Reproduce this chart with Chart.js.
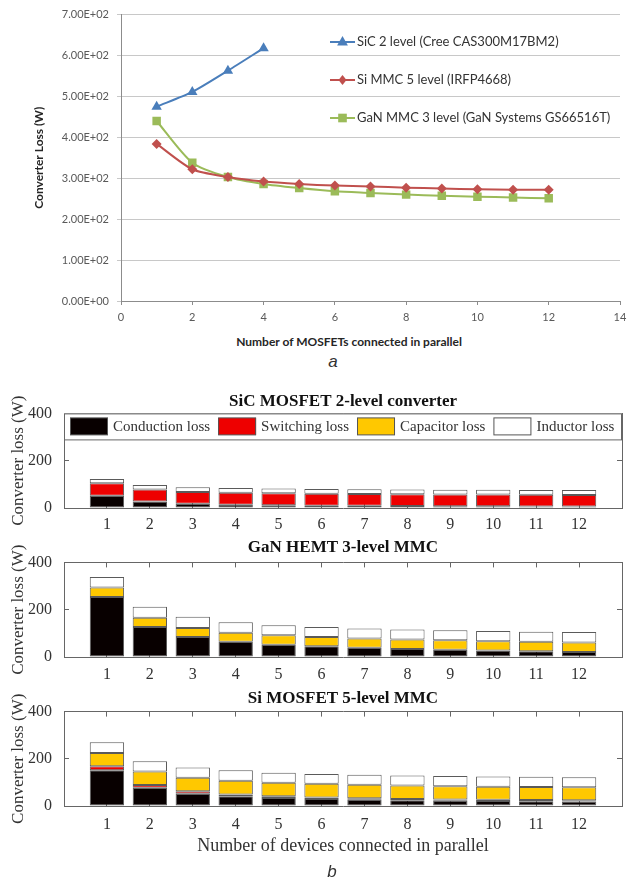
<!DOCTYPE html>
<html>
<head>
<meta charset="utf-8">
<script src="https://cdn.jsdelivr.net/npm/chart.js@4.4.1/dist/chart.umd.min.js"></script>
<style>
  body { margin: 0; background: #fff; width: 628px; height: 881px; position: relative; overflow: hidden; }
  canvas { position: absolute; left: 0; }
  .txt { position: absolute; white-space: nowrap; transform: translate(-50%, -50%); }
</style>
</head>
<body>
<canvas id="lineChart" width="628" height="330" style="top:0"></canvas>
<div class="txt" style="left:349px;top:341px;font:bold 12px Lato;color:#262626">Number of MOSFETs connected in parallel</div>
<div class="txt" style="left:333px;top:362px;font:italic 17px 'Liberation Sans';color:#333">a</div>
<canvas id="sicBars" width="628" height="150" style="top:385px"></canvas>
<canvas id="ganBars" width="628" height="150" style="top:535px"></canvas>
<canvas id="siBars" width="628" height="180" style="top:685px"></canvas>
<div class="txt" style="left:332px;top:872px;font:italic 17px 'Liberation Sans';color:#333">b</div>
<script>
// ---- data (a) ----
const nParallel = [1, 2, 3, 4, 5, 6, 7, 8, 9, 10, 11, 12];
const lineNames = ['SiC 2 level (Cree CAS300M17BM2)', 'Si MMC 5 level (IRFP4668)', 'GaN MMC 3 level (GaN Systems GS66516T)'];
const sicTwoLevel = [475, 511, 563, 618];
const siMmcFiveLevel = [384, 322, 303, 292, 286, 282, 280, 277, 275, 273, 272, 272];
const ganMmcThreeLevel = [440, 338, 303, 286, 276, 268, 264, 260, 257, 255, 253, 251];

// ---- data (b) ----
const lossTypes = ['Conduction loss', 'Switching loss', 'Capacitor loss', 'Inductor loss'];
const sicConduction = [52, 27, 18, 14, 12, 10, 9, 8, 7, 7, 6, 6];
const sicSwitching = [53, 51, 50, 50, 50, 50, 50, 50, 50, 50, 50, 49];
const sicCapacitor = [0, 0, 0, 0, 0, 0, 0, 0, 0, 0, 0, 0];
const sicInductor = [18, 19, 20, 21, 20, 20, 20, 20, 20, 20, 20, 21];

const ganConduction = [254, 127, 85, 65, 52, 45, 39, 34, 31, 27, 24, 21];
const ganSwitching = [0, 0, 0, 0, 0, 0, 0, 0, 0, 0, 0, 0];
const ganCapacitor = [40, 39, 38, 38, 40, 40, 39, 40, 40, 40, 40, 40];
const ganInductor = [44, 47, 47, 44, 42, 42, 43, 42, 42, 43, 43, 45];

const siConduction = [151, 77, 52, 41, 34, 30, 27, 24, 22, 21, 20, 19];
const siSwitching = [17, 12, 10, 8, 7, 6, 6, 6, 6, 5, 5, 5];
const siCapacitor = [57, 57, 58, 58, 58, 58, 57, 57, 56, 56, 56, 55];
const siInductor = [45, 44, 43, 44, 42, 42, 42, 42, 43, 43, 43, 43];

const lossColors = ['#080000', '#ee0000', '#ffc800', '#ffffff'];

function pts(ys) {
  return ys.map((y, i) => ({ x: nParallel[i], y: y }));
}

function sci(v) {
  if (v === 0) return '0.00E+00';
  const e = Math.floor(Math.log10(v));
  return (v / Math.pow(10, e)).toFixed(2) + 'E+' + String(e).padStart(2, '0');
}

function marker(ctx, style, x, y, r, color) {
  ctx.fillStyle = color;
  ctx.beginPath();
  if (style === 'triangle') {
    ctx.moveTo(x, y - r);
    ctx.lineTo(x + r * 0.9, y + r * 0.6);
    ctx.lineTo(x - r * 0.9, y + r * 0.6);
  } else if (style === 'rectRot') {
    ctx.moveTo(x, y - r);
    ctx.lineTo(x + r * 0.8, y);
    ctx.lineTo(x, y + r);
    ctx.lineTo(x - r * 0.8, y);
  } else {
    const s = r * 0.72;
    ctx.rect(x - s, y - s, s * 2, s * 2);
  }
  ctx.closePath();
  ctx.fill();
}

// legend drawn inside the plot, like the Excel one
const lineLegend = {
  id: 'lineLegend',
  afterDatasetsDraw(chart) {
    const ctx = chart.ctx;
    const rows = [42, 80, 118];
    ctx.save();
    chart.data.datasets.forEach((ds, i) => {
      const y = rows[i];
      ctx.strokeStyle = ds.borderColor;
      ctx.lineWidth = 2;
      ctx.beginPath();
      ctx.moveTo(330, y);
      ctx.lineTo(355, y);
      ctx.stroke();
      marker(ctx, ds.pointStyle, 342.5, y, ds.pointRadius, ds.backgroundColor);
      ctx.fillStyle = '#333';
      ctx.font = '13px Lato';
      ctx.textBaseline = 'middle';
      ctx.fillText(ds.label, 357, y);
    });
    ctx.restore();
  }
};

new Chart(document.getElementById('lineChart'), {
  type: 'line',
  data: {
    datasets: [
      { label: lineNames[0], data: pts(sicTwoLevel), borderColor: '#4a7ebb', backgroundColor: '#4a7ebb',
        pointStyle: 'triangle', pointRadius: 6 },
      { label: lineNames[1], data: pts(siMmcFiveLevel), borderColor: '#c0504d', backgroundColor: '#c0504d',
        pointStyle: 'rectRot', pointRadius: 5 },
      { label: lineNames[2], data: pts(ganMmcThreeLevel), borderColor: '#9bbb59', backgroundColor: '#9bbb59',
        pointStyle: 'rect', pointRadius: 6 }
    ]
  },
  options: {
    responsive: false,
    animation: false,
    elements: { line: { borderWidth: 2, tension: 0.25 }, point: { borderWidth: 0 } },
    layout: { padding: { left: 32, top: 14, right: 8, bottom: 0 } },
    plugins: { legend: { display: false }, tooltip: { enabled: false } },
    scales: {
      x: {
        type: 'linear', min: 0, max: 14,
        // padding 0 so the last label does not eat the right margin; lineHeight pushes labels down
        ticks: { stepSize: 2, color: '#595959', font: { family: 'Lato', size: 11, lineHeight: 2.3 }, padding: 0 },
        grid: { drawOnChartArea: false, tickLength: 4, color: '#8c8c8c' },
        border: { color: '#8c8c8c' },
        afterFit(s) { s.height = 29; }
      },
      y: {
        min: 0, max: 700,
        ticks: { stepSize: 100, callback: v => sci(v), color: '#595959', font: { family: 'Lato', size: 11 }, padding: 8 },
        grid: { color: '#c8c8c8', tickLength: 4 },
        border: { color: '#8c8c8c' },
        title: { display: true, text: 'Converter Loss (W)', color: '#262626',
          font: { family: 'Lato', size: 12, weight: 'bold' }, padding: 0 },
        afterFit(s) { s.width = 121 - 32; }
      }
    }
  },
  plugins: [lineLegend]
});

// legend box for the first bar chart
const lossLegend = {
  id: 'lossLegend',
  afterDatasetsDraw(chart) {
    const ctx = chart.ctx;
    const a = chart.chartArea;
    ctx.save();
    ctx.fillStyle = '#fff';
    ctx.fillRect(a.left, a.top, a.right - a.left, 26);
    ctx.strokeStyle = '#666';
    ctx.lineWidth = 1;
    ctx.strokeRect(a.left + 0.5, a.top + 0.5, a.right - a.left - 1, 26);
    let x = a.left + 6;
    ctx.font = '15px "Liberation Serif"';
    ctx.textBaseline = 'middle';
    chart.data.datasets.forEach(ds => {
      ctx.fillStyle = ds.backgroundColor;
      ctx.fillRect(x, a.top + 4.5, 38, 17);
      ctx.strokeStyle = '#555';
      ctx.strokeRect(x + 0.5, a.top + 4.5, 37, 17);
      x += 43;
      ctx.fillStyle = '#333';
      ctx.fillText(ds.label, x, a.top + 13.5);
      x += ctx.measureText(ds.label).width + 8;
    });
    ctx.restore();
  }
};

const serif = 'Liberation Serif';

function lossChart(id, title, series, o) {
  const edge = { drawOnChartArea: false, tickLength: -5, color: '#666' };
  return new Chart(document.getElementById(id), {
    type: 'bar',
    data: {
      datasets: series.map((vals, i) => ({
        label: lossTypes[i],
        data: pts(vals),
        backgroundColor: lossColors[i],
        borderColor: '#5a5a5a',
        borderWidth: 1,
        borderSkipped: false,
        barPercentage: 0.8,
        categoryPercentage: 1
      }))
    },
    options: {
      responsive: false,
      animation: false,
      layout: { padding: { left: 8, right: 6, top: 0, bottom: 0 } },
      plugins: {
        legend: { display: false },
        tooltip: { enabled: false },
        title: { display: true, text: title, fullSize: false, color: '#111',
          font: { family: serif, size: 17, weight: 'bold' }, padding: { top: o.tp, bottom: o.bp } }
      },
      scales: {
        x: {
          type: 'linear', min: 0, max: 13, stacked: true, offset: false,
          ticks: { stepSize: 1, callback: v => (v >= 1 && v <= 12 ? String(v) : ''),
            color: '#333', font: { family: serif, size: 16, lineHeight: o.lh }, padding: 0 },
          grid: Object.assign({ offset: false }, edge),
          border: { color: '#666' },
          title: { display: !!o.xTitle, text: o.xTitle || '', color: '#333',
            font: { family: serif, size: 18 }, padding: { top: 0, bottom: 8 } },
          afterFit(s) { s.height = o.xh; }
        },
        x2: {
          type: 'linear', position: 'top', min: 0, max: 13, offset: false,
          ticks: { stepSize: 1, display: false },
          grid: Object.assign({ offset: false }, edge),
          border: { color: '#666' },
          afterFit(s) { s.height = 0; }
        },
        y: {
          min: 0, max: 400, stacked: true,
          ticks: { stepSize: 200, color: '#333', font: { family: serif, size: 16 }, padding: 17 },
          grid: edge,
          border: { color: '#666' },
          title: { display: true, text: 'Converter loss (W)', color: '#333',
            font: { family: serif, size: 17 }, padding: 0 },
          afterFit(s) { s.width = 64 - 8; }
        },
        y2: {
          position: 'right', min: 0, max: 400,
          ticks: { stepSize: 200, display: false },
          grid: edge,
          border: { color: '#666' },
          afterFit(s) { s.width = 0; }
        }
      }
    },
    plugins: o.legend ? [lossLegend] : []
  });
}

lossChart('sicBars', 'SiC MOSFET 2-level converter',
  [sicConduction, sicSwitching, sicCapacitor, sicInductor],
  { tp: 6, bp: 2, lh: 2.75, xh: 27, legend: true });
lossChart('ganBars', 'GaN HEMT 3-level MMC',
  [ganConduction, ganSwitching, ganCapacitor, ganInductor],
  { tp: 2, bp: 5, lh: 2.85, xh: 28 });
lossChart('siBars', 'Si MOSFET 5-level MMC',
  [siConduction, siSwitching, siCapacitor, siInductor],
  { tp: 3, bp: 3, lh: 3.0, xh: 59, xTitle: 'Number of devices connected in parallel' });
</script>
</body>
</html>
